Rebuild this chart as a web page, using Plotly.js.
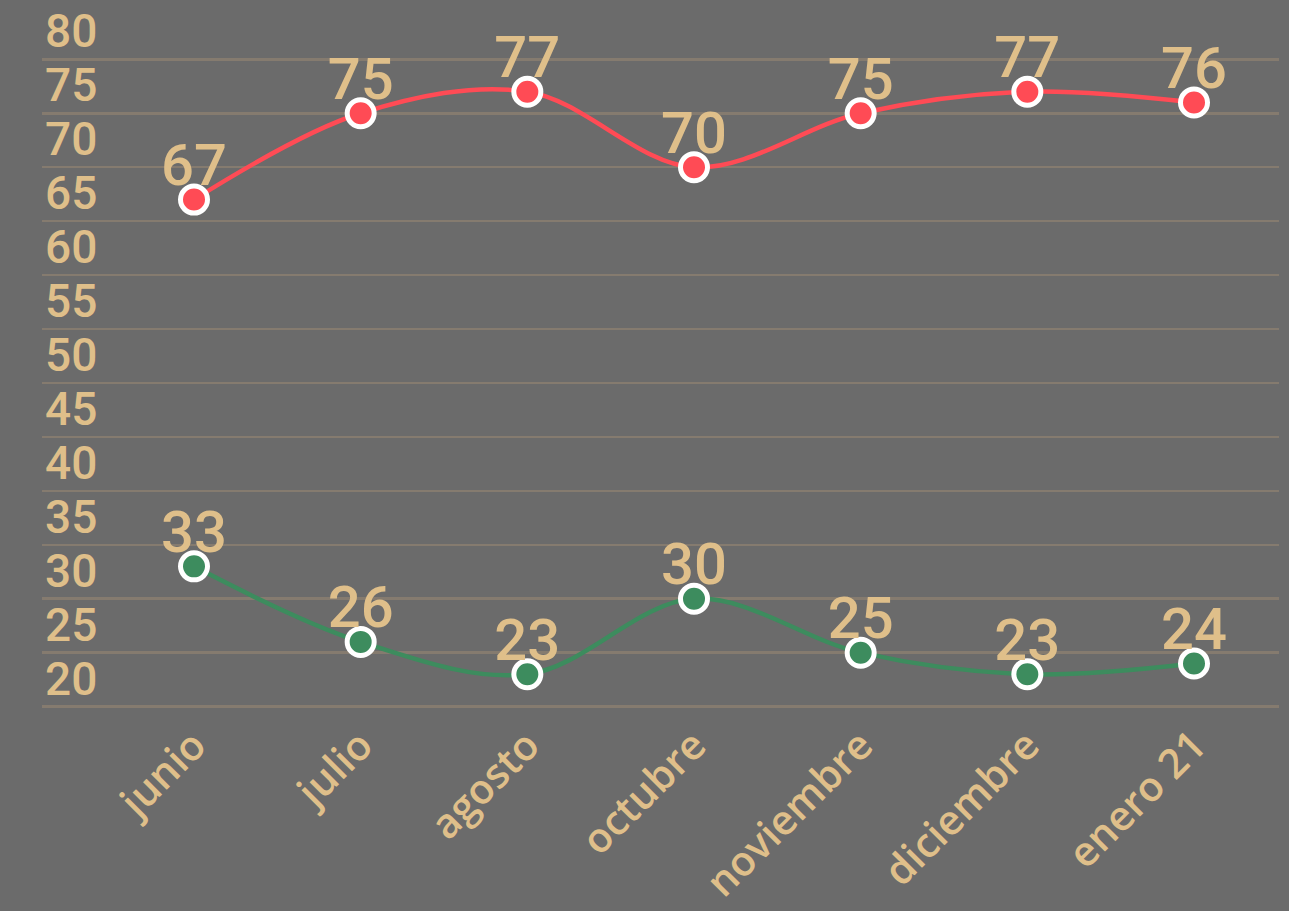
<!DOCTYPE html>
<html>
<head>
<meta charset="utf-8">
<script src="https://cdn.plot.ly/plotly-3.0.1.min.js"></script>
<style>html,body{margin:0;padding:0;background:#6b6b6b;}#chart{width:1289px;height:911px;}</style>
</head>
<body>
<div id="chart"></div>
<script>
const months = ["junio", "julio", "agosto", "octubre", "noviembre", "diciembre", "enero 21"];
const redValues = [67, 75, 77, 70, 75, 77, 76];
const greenValues = [33, 26, 23, 30, 25, 23, 24];
const yTicks = [20, 25, 30, 35, 40, 45, 50, 55, 60, 65, 70, 75, 80];

const tan = "#dfbf8a";
function lineTrace(vals, color) {
  return {
    x: months, y: vals, type: "scatter", mode: "lines+markers",
    line: {color: color, width: 4.5, shape: "spline", smoothing: 1},
    marker: {color: color, size: 27, line: {color: "#ffffff", width: 5}},
    hoverinfo: "x+y", cliponaxis: false, showlegend: false
  };
}
function labelTrace(vals) {
  return {
    x: months, y: vals, type: "scatter", mode: "text",
    text: vals.map(String), textposition: "top center",
    textfont: {family: "Roboto, sans-serif", size: 58, color: tan, weight: 500},
    hoverinfo: "skip", cliponaxis: false, showlegend: false
  };
}
const data = [lineTrace(redValues, "#ff4b55"), lineTrace(greenValues, "#3d8c5e"),
              labelTrace(redValues), labelTrace(greenValues)];
const layout = {
  width: 1289, height: 911,
  paper_bgcolor: "#6b6b6b", plot_bgcolor: "#6b6b6b",
  margin: {l: 42, r: 10, t: 0, b: 199},
  showlegend: false,
  xaxis: {
    type: "category", range: [-0.912, 6.51],
    showgrid: false, zeroline: false, showline: false, ticks: "",
    tickangle: -45, tickfont: {family: "Open Sans, sans-serif", size: 41, color: tan, weight: 600}
  },
  yaxis: {
    range: [19.5, 85.5], tickvals: yTicks, ticktext: yTicks.map(String),
    showgrid: true, gridcolor: "#857b6f", gridwidth: 2.5, zeroline: false, showline: false, ticks: "",
    ticklabelposition: "inside", ticklabelshift: -28,
    tickfont: {family: "Roboto, sans-serif", size: 46, color: tan, weight: 500}
  }
};
Plotly.newPlot("chart", data, layout, {displayModeBar: false, staticPlot: true});
</script>
</body>
</html>
